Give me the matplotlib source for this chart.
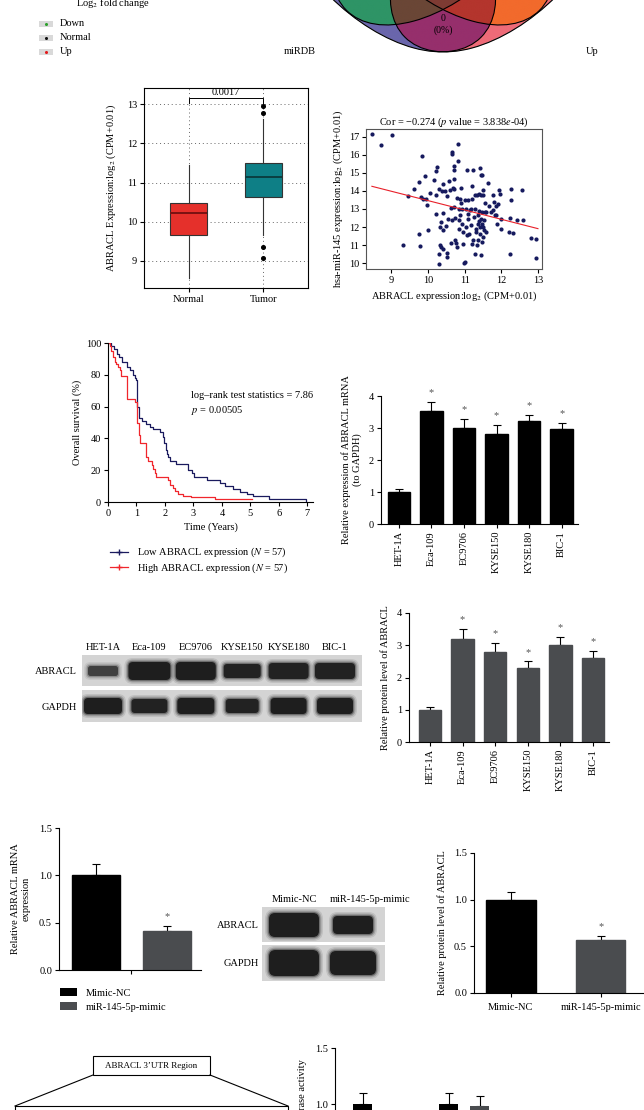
import numpy as np
import matplotlib.pyplot as plt
from matplotlib.patches import Ellipse, Rectangle, FancyBboxPatch, Patch
from matplotlib.lines import Line2D
from matplotlib.colors import to_rgba

plt.rcParams['font.family'] = ['Liberation Serif', 'DejaVu Serif']
plt.rcParams['mathtext.fontset'] = 'stix'
plt.rcParams['font.size'] = 7.5
plt.rcParams['axes.linewidth'] = 0.8

# ---- Venn (4 conjuntos, solo se ve la parte inferior) ----
venn_ellipses = [(0.35, 0.47, 135), (0.5, 0.539, 135), (0.5, 0.539, 45), (0.65, 0.47, 45)]
venn_region_colors = {
    (1, 0, 0, 0): '#6A66AC', (1, 0, 1, 0): '#2E9466', (1, 0, 1, 1): '#6A4636',
    (1, 0, 0, 1): '#962F6C', (1, 1, 0, 1): '#B4352D', (0, 1, 0, 1): '#F26A2C',
    (0, 0, 0, 1): '#EE6B78', (1, 1, 1, 1): '#7E3B33',
}
venn_labels = ['miRDB', 'Up']
fc_legend = ['Down', 'Normal', 'Up']
fc_colors = ['#2ca02c', '#111111', '#e41a1c']

# ---- Boxplot Normal vs Tumor ----
box_groups = ['Normal', 'Tumor']
box_q = {'Normal': [8.57, 9.65, 10.23, 10.49, 11.45], 'Tumor': [9.66, 10.64, 11.14, 11.49, 12.61]}
box_fliers = {'Normal': [], 'Tumor': [12.95, 12.78, 9.35, 9.07]}
box_colors = ['#E5302B', '#0E7F86']
box_pval = '0.0017'

# ---- Correlación ABRACL vs hsa-miR-145 ----
sc_x = [8.48, 8.73, 9.03, 9.33, 9.45, 9.63, 9.75, 9.77, 9.78, 9.83, 9.82, 9.87, 9.92, 9.95, 9.98, 10.0,
        10.05, 10.18, 10.22, 10.25, 10.23, 10.22, 10.31, 10.32, 10.33, 10.31, 10.31, 10.35, 10.37, 10.38,
        10.4, 10.42, 10.42, 10.42, 10.46, 10.49, 10.51, 10.51, 10.52, 10.54, 10.57, 10.6, 10.62, 10.62,
        10.65, 10.66, 10.66, 10.68, 10.7, 10.71, 10.72, 10.72, 10.72, 10.74, 10.73, 10.76, 10.79, 10.8,
        10.81, 10.82, 10.84, 10.84, 10.85, 10.87, 10.88, 10.9, 10.91, 10.92, 10.94, 10.95, 10.96, 10.97,
        11.01, 11.01, 11.03, 11.04, 11.06, 11.07, 11.09, 11.1, 11.1, 11.13, 11.14, 11.16, 11.17, 11.19,
        11.2, 11.21, 11.22, 11.23, 11.25, 11.27, 11.27, 11.29, 11.31, 11.31, 11.33, 11.34, 11.35, 11.36,
        11.37, 11.39, 11.4, 11.4, 11.41, 11.41, 11.42, 11.43, 11.44, 11.44, 11.44, 11.46, 11.46, 11.48,
        11.48, 11.49, 11.49, 11.5, 11.5, 11.52, 11.53, 11.54, 11.55, 11.57, 11.57, 11.63, 11.67, 11.72,
        11.76, 11.77, 11.79, 11.81, 11.84, 11.86, 11.88, 11.9, 11.93, 11.96, 11.98, 12.0, 12.21, 12.22,
        12.23, 12.26, 12.27, 12.32, 12.43, 12.56, 12.59, 12.79, 12.95, 12.95]
sc_y = [17.15, 16.54, 17.09, 11.0, 13.7, 14.1, 14.52, 11.63, 10.93, 15.96, 13.68, 13.56, 14.85, 13.56,
        13.22, 11.85, 13.89, 14.63, 15.11, 15.31, 13.8, 12.74, 14.13, 12.02, 10.98, 10.52, 9.93, 12.28,
        10.89, 13.98, 12.76, 14.37, 11.85, 10.8, 14.0, 12.06, 13.7, 10.56, 10.33, 12.47, 14.54, 14.04,
        13.06, 11.11, 12.41, 16.19, 16.04, 14.19, 13.11, 15.37, 15.19, 14.69, 14.13, 12.52, 11.26, 11.13,
        10.89, 13.59, 16.63, 15.69, 13.02, 12.37, 11.91, 13.57, 12.65, 14.17, 13.33, 12.15, 13.0, 11.72,
        11.07, 10.0, 10.06, 13.52, 13.0, 12.0, 11.54, 15.19, 12.44, 13.48, 12.74, 11.63, 12.93, 12.09,
        13.02, 14.3, 13.57, 11.07, 15.19, 11.26, 12.56, 13.76, 10.52, 13.02, 11.91, 11.72, 13.76, 10.98,
        11.3, 12.65, 12.19, 12.33, 13.85, 12.89, 15.3, 12.0, 11.63, 14.87, 13.76, 12.46, 10.43, 11.15,
        12.19, 14.87, 12.83, 11.44, 14.04, 12.0, 13.76, 11.81, 12.37, 12.83, 13.35, 11.72, 12.83, 14.44,
        13.15, 12.83, 13.76, 12.96, 13.37, 12.65, 13.15, 12.65, 12.15, 13.3, 14.04, 13.85, 11.91, 12.46,
        11.72, 10.48, 12.52, 14.13, 13.48, 11.67, 12.41, 14.04, 12.41, 11.41, 11.33, 10.26]
fit_x = [8.48, 12.99]
fit_y = [14.26, 11.91]

# ---- Kaplan-Meier ----
low_t = [0, 0.1, 0.2, 0.3, 0.4, 0.5, 0.65, 0.76, 0.88, 0.96, 1.0, 1.02, 1.09, 1.18, 1.35, 1.47, 1.59,
         1.82, 1.92, 1.96, 2.02, 2.06, 2.12, 2.17, 2.4, 2.82, 2.94, 3.02, 3.47, 3.94, 4.1, 4.4, 4.64,
         4.88, 5.11, 5.64, 6.97]
low_s = [100, 98, 96, 93, 91, 88, 85, 83, 80, 78, 77, 60, 53, 51, 49, 47, 46, 44, 41, 37, 33, 30, 28,
         26, 24, 20, 18, 16, 14, 12, 10, 8, 6, 5, 4, 2, 0]
high_t = [0, 0.06, 0.12, 0.18, 0.24, 0.29, 0.35, 0.41, 0.47, 0.68, 0.94, 1.03, 1.08, 1.12, 1.32, 1.35,
          1.41, 1.53, 1.59, 1.65, 1.70, 2.12, 2.17, 2.29, 2.35, 2.47, 2.64, 2.9, 3.76, 5.05]
high_s = [100, 98, 95, 91, 88, 87, 85, 83, 79, 65, 63, 50, 42, 37, 30, 28, 26, 23, 21, 18, 16, 14, 11,
          9, 7, 5, 4, 3, 2, 2]

# ---- Líneas celulares ----
cell_lines = ['HET-1A', 'Eca-109', 'EC9706', 'KYSE150', 'KYSE180', 'BIC-1']
mrna_mean = [1.0, 3.52, 3.0, 2.8, 3.21, 2.98]
mrna_err = [0.1, 0.28, 0.28, 0.28, 0.2, 0.18]
prot_mean = [1.0, 3.2, 2.8, 2.3, 3.0, 2.6]
prot_err = [0.1, 0.3, 0.26, 0.2, 0.27, 0.23]
# bandas western (ancho px, alto px, intensidad)
blot1_abracl = [(30, 5, 0.7), (42, 9, 1.0), (40, 9, 1.0), (37, 7, 0.95), (40, 8, 0.95), (40, 8, 0.95)]
blot1_gapdh = [(38, 8, 1.0), (36, 7, 0.95), (37, 8, 1.0), (33, 7, 0.95), (36, 8, 1.0), (36, 8, 1.0)]

# ---- Mimic-NC vs miR-145-5p-mimic ----
mimic_groups = ['Mimic-NC', 'miR-145-5p-mimic']
mimic_mrna = [1.0, 0.41]
mimic_mrna_err = [0.12, 0.06]
mimic_prot = [1.0, 0.57]
mimic_prot_err = [0.085, 0.045]
blot2_abracl = [(50, 12, 1.0), (40, 9, 1.0)]
blot2_gapdh = [(50, 13, 1.0), (46, 12, 1.0)]
luc_nc = [1.0, 1.0]
luc_mimic = [0.45, 0.98]
luc_nc_err = [0.1, 0.1]
luc_mimic_err = [0.05, 0.09]

BLACK = '#000000'
GREY = '#4A4C4F'

W, H = 644, 1110
fig = plt.figure(figsize=(W / 100, H / 100), dpi=100)


def px_axes(x0, y0, x1, y1):
    return fig.add_axes([x0 / W, 1 - y1 / H, (x1 - x0) / W, (y1 - y0) / H])


def prism_style(ax):
    ax.spines[['top', 'right']].set_visible(False)
    ax.tick_params(direction='out', length=3, width=0.8, labelsize=7.5, pad=2)


def bars_with_err(ax, xs, vals, errs, colors, width, stars):
    ax.bar(xs, vals, width=width, color=colors, edgecolor=colors, zorder=2)
    ax.errorbar(xs, vals, yerr=[np.zeros(len(vals)), errs], fmt='none', ecolor='black',
                elinewidth=0.8, capsize=3, capthick=0.8, zorder=1)
    for x, v, e, s in zip(xs, vals, errs, stars):
        if s:
            ax.text(x, v + e + 0.04 * ax.get_ylim()[1], '*', ha='center', va='bottom', fontsize=7.5,
                    color='#555555')


def band(ax, xc, yc, w, h, dark):
    for k, a in [(4, 0.10), (2.5, 0.18), (1.2, 0.35), (0, 0.85)]:
        ax.add_patch(FancyBboxPatch((xc - w / 2 + h / 2, yc - h / 2), w - h, h,
                                    boxstyle=f'round,pad={h / 2 + k}', fc='#101010',
                                    ec='none', alpha=a * dark))


# ---------------- Venn ----------------
ax = px_axes(248, -266, 638, 85)
gx, gy = np.meshgrid(np.linspace(0, 1, 900), np.linspace(0.1, 1.0, 810))
inside = []
for cx, cy, ang in venn_ellipses:
    t = np.deg2rad(ang)
    dx, dy = gx - cx, gy - cy
    u = dx * np.cos(t) + dy * np.sin(t)
    v = -dx * np.sin(t) + dy * np.cos(t)
    inside.append((u / 0.35) ** 2 + (v / 0.2) ** 2 <= 1)
img = np.zeros(gx.shape + (4,))
anyin = np.any(inside, axis=0)
img[anyin] = to_rgba('#8a6f9e')
for key, col in venn_region_colors.items():
    m = np.ones(gx.shape, bool)
    for k, ins in zip(key, inside):
        m &= ins if k else ~ins
    img[m] = to_rgba(col)
ax.imshow(img, extent=(0, 1, 0.1, 1.0), origin='lower', aspect='auto', interpolation='bilinear')
for cx, cy, ang in venn_ellipses:
    ax.add_patch(Ellipse((cx, cy), 0.7, 0.4, angle=ang, fill=False, lw=0.8, ec='black'))
ax.text(0.5, 0.255, '0\n(0%)', ha='center', va='center', fontsize=7, linespacing=1.3)
ax.set_xlim(0, 1)
ax.set_ylim(0.1, 1.0)
ax.axis('off')

fig.text(300 / W, 1 - 52 / H, venn_labels[0], ha='center', va='center', fontsize=7.5)
fig.text(592 / W, 1 - 52 / H, venn_labels[1], ha='center', va='center', fontsize=7.5)
fig.text(113 / W, 1 - 3 / H, 'Log$_2$ fold change', ha='center', va='center', fontsize=7.5)
for i, (lab, c) in enumerate(zip(fc_legend, fc_colors)):
    yk = 24 + 14 * i
    fig.add_artist(Rectangle((39 / W, 1 - (yk + 3) / H), 14 / W, 6 / H, transform=fig.transFigure,
                             fc='#d9d9d9', ec='none'))
    fig.add_artist(Line2D([46 / W], [1 - yk / H], marker='o', ms=1.2, color=c, transform=fig.transFigure))
    fig.text(60 / W, 1 - yk / H, lab, ha='left', va='center', fontsize=7.5)

# ---------------- Boxplot ----------------
ax = px_axes(144, 88, 308, 288)
stats = []
for g in box_groups:
    q = box_q[g]
    stats.append(dict(whislo=q[0], q1=q[1], med=q[2], q3=q[3], whishi=q[4], fliers=box_fliers[g], label=g))
bp = ax.bxp(stats, positions=[1, 2], widths=0.5, patch_artist=True, showcaps=False,
            flierprops=dict(marker='o', ms=2.6, mfc='black', mec='black'),
            whiskerprops=dict(lw=0.8, color='#333333'),
            medianprops=dict(lw=1.4))
for b, c in zip(bp['boxes'], box_colors):
    b.set_facecolor(c)
    b.set_edgecolor('#333333')
    b.set_linewidth(0.8)
for m, mc in zip(bp['medians'], ['#7a1212', '#0a3f42']):
    m.set_color(mc)
ax.plot([1, 1, 2, 2], [13.04, 13.15, 13.15, 13.04], color='black', lw=0.7)
ax.text(1.5, 13.17, box_pval, ha='center', va='bottom', fontsize=7.5)
ax.set_xlim(0.4, 2.6)
ax.set_ylim(8.31, 13.41)
ax.set_yticks([9, 10, 11, 12, 13])
ax.grid(True, ls=(0, (1, 3)), color='#666666', lw=0.7)
ax.set_axisbelow(True)
ax.tick_params(length=3, width=0.8, labelsize=7.5, pad=2)
ax.set_ylabel('ABRACL Expression:log$_2$ (CPM+0.01)', fontsize=7.5, labelpad=6)

# ---------------- Scatter ----------------
ax = px_axes(366, 129, 542, 269)
ax.scatter(sc_x, sc_y, s=9, color='#161a5e', zorder=2, linewidths=0)
ax.plot(fit_x, fit_y, color='#e8202a', lw=0.8, zorder=3)
ax.set_xlim(8.32, 13.1)
ax.set_ylim(9.67, 17.44)
ax.set_xticks([9, 10, 11, 12, 13])
ax.set_yticks([10, 11, 12, 13, 14, 15, 16, 17])
for s in ax.spines.values():
    s.set_color('#555555')
ax.tick_params(length=3, width=0.8, labelsize=7.5, pad=2)
ax.set_title('Cor = \u22120.274 ($p$ value = 3.838$e$-04)', fontsize=7.5, pad=3)
ax.set_xlabel('ABRACL expression:log$_2$ (CPM+0.01)', fontsize=7.5, labelpad=3)
ax.set_ylabel('hsa-miR-145 expression:log$_2$ (CPM+0.01)', fontsize=7.5, labelpad=3)

# ---------------- Kaplan-Meier ----------------
ax = px_axes(108, 343, 313, 502)
ax.step(low_t, low_s, where='post', color='#1a1a5e', lw=0.9)
ax.step(high_t, high_s, where='post', color='#f0262c', lw=0.9)
ax.set_xlim(0, 7.2)
ax.set_ylim(0, 100)
ax.set_xticks(range(8))
ax.set_yticks([0, 20, 40, 60, 80, 100])
prism_style(ax)
ax.set_xlabel('Time (Years)', fontsize=7.5, labelpad=3)
ax.set_ylabel('Overall survival (%)', fontsize=7.5, labelpad=3)
ax.text(2.92, 70, 'log\u2013rank test statistics = 7.86\n$p$ = 0.00505', fontsize=7.5, va='top',
        linespacing=1.5)
handles = [Line2D([], [], color='#1a1a5e', lw=0.9, marker='+', ms=5),
           Line2D([], [], color='#f0262c', lw=0.9, marker='+', ms=5)]
ax.legend(handles, ['Low ABRACL expression ($N$ = 57)', 'High ABRACL expression ($N$ = 57)'],
          loc='upper left', bbox_to_anchor=(-0.01, -0.25), frameon=False, fontsize=7.5,
          handlelength=1.7, handletextpad=0.9, labelspacing=0.2, borderaxespad=0)

# ---------------- mRNA por línea celular ----------------
ax = px_axes(381, 396, 578, 524)
xs = np.arange(len(cell_lines))
bars_with_err(ax, xs, mrna_mean, mrna_err, BLACK, 0.69, [0, 1, 1, 1, 1, 1])
ax.set_xlim(-0.55, 5.5)
ax.set_ylim(0, 4)
ax.set_yticks([0, 1, 2, 3, 4])
ax.set_xticks(xs)
ax.set_xticklabels(cell_lines, rotation=90)
prism_style(ax)
ax.set_ylabel('Relative expression of ABRACL mRNA\n(to GAPDH)', fontsize=7.5, labelpad=5)

# ---------------- Western blot 1 ----------------
ax = px_axes(82, 655, 362, 722)
ax.add_patch(Rectangle((0, 0), 280, 31, fc='#d4d4d4', ec='none'))
ax.add_patch(Rectangle((0, 35), 280, 32, fc='#d4d4d4', ec='none'))
lane_x = 21 + 46.4 * np.arange(len(cell_lines))
for xc, (w, h, d) in zip(lane_x, blot1_abracl):
    band(ax, xc, 16, w, h, d)
for xc, (w, h, d) in zip(lane_x, blot1_gapdh):
    band(ax, xc, 51, w, h, d)
ax.set_xlim(0, 280)
ax.set_ylim(67, 0)
ax.axis('off')
for xc, lab in zip(lane_x, cell_lines):
    fig.text((82 + xc) / W, 1 - 647 / H, lab, ha='center', va='center', fontsize=7.5)
fig.text(77 / W, 1 - 672 / H, 'ABRACL', ha='right', va='center', fontsize=7.5)
fig.text(77 / W, 1 - 707 / H, 'GAPDH', ha='right', va='center', fontsize=7.5)

# ---------------- Proteína por línea celular ----------------
ax = px_axes(409, 613, 609, 742)
bars_with_err(ax, xs, prot_mean, prot_err, GREY, 0.69, [0, 1, 1, 1, 1, 1])
ax.set_xlim(-0.64, 5.49)
ax.set_ylim(0, 4)
ax.set_yticks([0, 1, 2, 3, 4])
ax.set_xticks(xs)
ax.set_xticklabels(cell_lines, rotation=90)
prism_style(ax)
ax.set_ylabel('Relative protein level of ABRACL', fontsize=7.5, labelpad=5)

# ---------------- mRNA mimic ----------------
ax = px_axes(59, 828, 201, 970)
bars_with_err(ax, [0, 1], mimic_mrna, mimic_mrna_err, [BLACK, GREY], 0.68, [0, 1])
ax.set_xlim(-0.52, 1.48)
ax.set_ylim(0, 1.5)
ax.set_yticks([0, 0.5, 1.0, 1.5])
ax.set_yticklabels(['0.0', '0.5', '1.0', '1.5'])
ax.set_xticks([0.5])
ax.set_xticklabels([''])
prism_style(ax)
ax.set_ylabel('Relative ABRACL mRNA\nexpression', fontsize=7.5, labelpad=6)
ax.legend([Patch(fc=BLACK), Patch(fc=GREY)], mimic_groups, loc='upper left',
          bbox_to_anchor=(-0.02, -0.1), frameon=False, fontsize=7.5, handlelength=1.6,
          handleheight=0.7, labelspacing=0.45, borderaxespad=0, handletextpad=0.8)

# ---------------- Western blot 2 ----------------
ax = px_axes(262, 907, 385, 981)
ax.add_patch(Rectangle((0, 0), 123, 35, fc='#d4d4d4', ec='none'))
ax.add_patch(Rectangle((0, 38), 123, 36, fc='#d4d4d4', ec='none'))
lane2_x = [32, 91]
for xc, (w, h, d) in zip(lane2_x, blot2_abracl):
    band(ax, xc, 18, w, h, d)
for xc, (w, h, d) in zip(lane2_x, blot2_gapdh):
    band(ax, xc, 56, w, h, d)
ax.set_xlim(0, 123)
ax.set_ylim(74, 0)
ax.axis('off')
fig.text(294 / W, 1 - 899 / H, mimic_groups[0], ha='center', va='center', fontsize=7.5)
fig.text(370 / W, 1 - 899 / H, mimic_groups[1], ha='center', va='center', fontsize=7.5)
fig.text(259 / W, 1 - 926 / H, 'ABRACL', ha='right', va='center', fontsize=7.5)
fig.text(259 / W, 1 - 963 / H, 'GAPDH', ha='right', va='center', fontsize=7.5)

# ---------------- Proteína mimic ----------------
ax = px_axes(474, 853, 643, 993)
bars_with_err(ax, [0, 1], mimic_prot, mimic_prot_err, [BLACK, GREY], 0.55, [0, 1])
ax.set_xlim(-0.41, 1.47)
ax.set_ylim(0, 1.5)
ax.set_yticks([0, 0.5, 1.0, 1.5])
ax.set_yticklabels(['0.0', '0.5', '1.0', '1.5'])
ax.set_xticks([0, 1])
ax.set_xticklabels(mimic_groups)
prism_style(ax)
ax.tick_params(axis='x', pad=4)
ax.set_ylabel('Relative protein level of ABRACL', fontsize=7.5, labelpad=5)

# ---------------- Esquema 3'UTR ----------------
ov = fig.add_axes([0, 0, 1, 1])
ov.set_xlim(0, W)
ov.set_ylim(H, 0)
ov.axis('off')
ov.add_patch(Rectangle((93, 1056), 117, 19, fill=False, ec='black', lw=0.8))
ov.text(151.5, 1065.5, 'ABRACL 3\u2019UTR Region', ha='center', va='center', fontsize=6.5)
ov.plot([93, 15], [1075, 1106], color='black', lw=0.8)
ov.plot([210, 288], [1075, 1106], color='black', lw=0.8)
ov.add_patch(Rectangle((15, 1106), 273, 20, fill=False, ec='black', lw=0.8))

# ---------------- Luciferasa ----------------
ax = px_axes(335, 1048, 520, 1216)
ax.set_zorder(ov.get_zorder() + 1)
pos_nc = [363, 449]
pos_mimic = [394, 480]
ax.bar(pos_nc, luc_nc, width=19, color=BLACK)
ax.bar(pos_mimic, luc_mimic, width=19, color=GREY)
ax.errorbar(pos_nc + pos_mimic, luc_nc + luc_mimic,
            yerr=[np.zeros(4), luc_nc_err + luc_mimic_err], fmt='none', ecolor='black',
            elinewidth=0.8, capsize=3, capthick=0.8, zorder=0)
ax.set_xlim(335, 520)
ax.set_ylim(0, 1.5)
ax.set_yticks([0, 0.5, 1.0, 1.5])
ax.set_yticklabels(['0.0', '0.5', '1.0', '1.5'])
ax.set_xticks([])
prism_style(ax)
ax.set_ylabel('Relative luciferase activity', fontsize=7.5)
ax.yaxis.set_label_coords(-0.15, 0.6)

fig.savefig('out.png', dpi=100)
